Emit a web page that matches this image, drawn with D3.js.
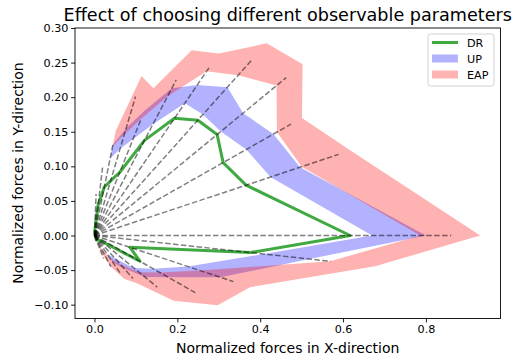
<!DOCTYPE html>
<html>
<head>
<meta charset="utf-8">
<script src="https://cdn.jsdelivr.net/npm/d3@7"></script>
<style>
  body { margin: 0; background: #fff; }
  text { font-family: "DejaVu Sans", sans-serif; }
</style>
</head>
<body>
<div id="chart"></div>
<script>
// directions (degrees) of the dashed rays and their lengths
var rayAngles = [-56.25, -48.75, -41.25, -33.75, -26.25, -18.75, -11.25, -3.75, 0, 11.25, 18.75, 26.25, 33.75, 41.25, 48.75, 56.25, 63.75, 71.25, 78.75, 86.25];
var rayLength = [0.04, 0.06, 0.085, 0.112, 0.169, 0.257, 0.342, 0.571, 0.861, 0.601, 0.501, 0.516, 0.459, 0.372, 0.299, 0.20, 0.224, 0.14, 0.10, 0.06];

// DR: one radius per ray
var drR = [0.008, 0.009, 0.01, 0.012, 0.018, 0.116, 0.0875, 0.377, 0.617, 0.373, 0.328, 0.33, 0.30, 0.257, 0.183, 0.11, 0.088, 0.074, 0.045, 0.005];

// UP band
var upAngles = [-41.25, -33.75, -26.25, -18.75, -11.25, -3.75, 0, 11.25, 18.75, 26.25, 33.75, 41.25, 48.75, 56.25, 63.75, 71.25];
var upLow  = [0.04, 0.06, 0.106, 0.149, 0.23, 0.41, 0.67, 0.433, 0.387, 0.34, 0.315, 0.29, 0.214, 0.168, 0.14, 0.117];
var upHigh = [0.06, 0.085, 0.136, 0.188, 0.31, 0.52, 0.80, 0.506, 0.456, 0.40, 0.386, 0.33, 0.283, 0.217, 0.173, 0.139];

// EAP band
var eapAngles = [-56.25, -48.75, -41.25, -33.75, -26.25, -18.75, -11.25, -3.75, 0, 11.25, 18.75, 26.25, 33.75, 41.25, 48.75, 56.25, 63.75, 71.25];
var eapLow  = [0.012, 0.025, 0.05, 0.075, 0.12, 0.166, 0.26, 0.57, 0.786, 0.51, 0.465, 0.49, 0.417, 0.36, 0.268, 0.203, 0.163, 0.136];
var eapHigh = [0.03, 0.06, 0.095, 0.125, 0.213, 0.314, 0.383, 0.679, 0.931, 0.63, 0.529, 0.56, 0.50, 0.399, 0.356, 0.256, 0.257, 0.16];

var xTicks = [0, 0.2, 0.4, 0.6, 0.8];
var yTicks = [-0.10, -0.05, 0, 0.05, 0.10, 0.15, 0.20, 0.25, 0.30];
var legendNames = ["DR", "UP", "EAP"];

var width = 517,
    height = 356;

var x = d3.scaleLinear().domain([-0.047, 0.98]).range([75, 500.5]);
var y = d3.scaleLinear().domain([-0.12, 0.30]).range([318.5, 28]);

var svg = d3.select("#chart").append("svg")
    .attr("width", width)
    .attr("height", height);

function pt(a, r) {
    var t = a * Math.PI / 180;
    return [x(r * Math.cos(t)), y(r * Math.sin(t))];
}

function band(angles, lo, hi) {
    var outer = angles.map(function(a, i) { return pt(a, hi[i]); });
    var inner = angles.map(function(a, i) { return pt(a, lo[i]); }).reverse();
    return "M" + outer.concat(inner).join("L") + "Z";
}

svg.append("clipPath").attr("id", "plotClip")
  .append("rect")
    .attr("x", 75).attr("y", 28)
    .attr("width", 425.5).attr("height", 290.5);

var g = svg.append("g").attr("clip-path", "url(#plotClip)");

g.append("path")
    .attr("d", band(upAngles, upLow, upHigh))
    .style("fill", "blue")
    .style("fill-opacity", 0.3);

g.append("path")
    .attr("d", band(eapAngles, eapLow, eapHigh))
    .style("fill", "red")
    .style("fill-opacity", 0.3);

g.append("path")
    .attr("d", "M" + rayAngles.map(function(a, i) { return pt(a, drR[i]); }).join("L") + "Z")
    .style("fill", "none")
    .style("stroke", "#2ca02c")
    .style("stroke-opacity", 0.9)
    .style("stroke-width", 3)
    .style("stroke-linejoin", "round");

g.selectAll(".ray")
    .data(rayAngles)
    .enter().append("line")
    .attr("class", "ray")
    .attr("x1", x(0)).attr("y1", y(0))
    .attr("x2", function(d, i) { return pt(d, rayLength[i])[0]; })
    .attr("y2", function(d, i) { return pt(d, rayLength[i])[1]; })
    .style("stroke", "black")
    .style("stroke-opacity", 0.5)
    .style("stroke-width", 1.5)
    .style("stroke-dasharray", "5.5,2.4");

// axes
var xAxis = svg.append("g")
    .attr("transform", "translate(0,318.5)")
    .call(d3.axisBottom(x).tickValues(xTicks).tickFormat(d3.format(".1f")).tickSizeOuter(0).tickSize(3.9));

var yAxis = svg.append("g")
    .attr("transform", "translate(75,0)")
    .call(d3.axisLeft(y).tickValues(yTicks).tickFormat(function(d) { return d3.format(".2f")(d).replace("-", "\u2212"); }).tickSizeOuter(0).tickSize(3.9));

[xAxis, yAxis].forEach(function(a) {
    a.select(".domain").remove();
    a.selectAll("line").style("stroke", "#000").style("stroke-width", 0.9);
    a.selectAll("text").style("font-size", "11.2px").style("fill", "#000");
});
xAxis.selectAll("text").attr("dy", "0.71em").attr("y", 6.5);
yAxis.selectAll("text").attr("x", -6.5);

svg.append("rect")
    .attr("x", 75).attr("y", 28)
    .attr("width", 425.5).attr("height", 290.5)
    .style("fill", "none")
    .style("stroke", "#000")
    .style("stroke-width", 0.9);

svg.append("text")
    .attr("x", 287.75).attr("y", 21)
    .attr("text-anchor", "middle")
    .style("font-size", "17.6px")
    .text("Effect of choosing different observable parameters");

svg.append("text")
    .attr("x", 287.75).attr("y", 353)
    .attr("text-anchor", "middle")
    .style("font-size", "14px")
    .text("Normalized forces in X-direction");

svg.append("text")
    .attr("transform", "translate(23,173) rotate(-90)")
    .attr("text-anchor", "middle")
    .style("font-size", "14px")
    .text("Normalized forces in Y-direction");

// legend
var leg = svg.append("g").attr("transform", "translate(428,34)");
leg.append("rect")
    .attr("width", 66).attr("height", 52)
    .attr("rx", 2.5)
    .style("fill", "white").style("fill-opacity", 0.8)
    .style("stroke", "#ccc").style("stroke-width", 0.9);

legendNames.forEach(function(name, i) {
    var yy = 8.5 + i * 16;
    if (i === 0) {
        leg.append("line")
            .attr("x1", 4).attr("x2", 30).attr("y1", yy).attr("y2", yy)
            .style("stroke", "#2ca02c").style("stroke-opacity", 0.9).style("stroke-width", 3);
    } else {
        leg.append("rect")
            .attr("x", 4).attr("y", yy - 4).attr("width", 26).attr("height", 8)
            .style("fill", i === 1 ? "blue" : "red").style("fill-opacity", 0.3);
    }
    leg.append("text")
        .attr("x", 39).attr("y", yy).attr("dy", "0.36em")
        .style("font-size", "11.2px")
        .text(name);
});
</script>
</body>
</html>
